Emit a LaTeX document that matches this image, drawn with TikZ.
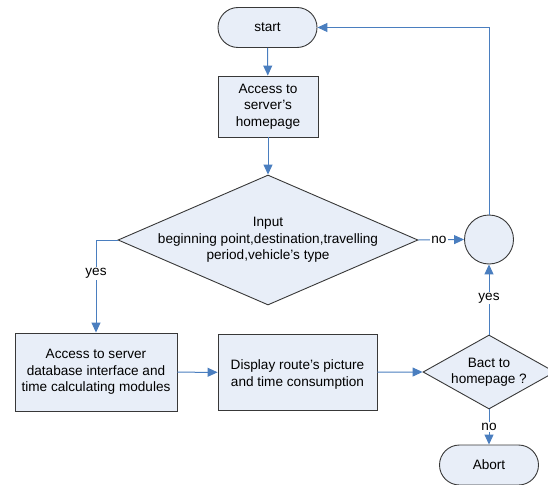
\documentclass[tikz,border=0pt]{standalone}
\usepackage{fontspec}
\setmainfont{Liberation Sans}
\usetikzlibrary{shapes.geometric,arrows.meta}
\definecolor{boxfill}{HTML}{E8EEF8}
\definecolor{boxline}{HTML}{383838}
\definecolor{arrowblue}{HTML}{4A7EBF}
\tikzset{
  base/.style={draw=boxline, fill=boxfill, line width=0.9pt, inner sep=0pt, align=center},
  terminal/.style={base, rectangle, rounded corners=20pt, minimum width=99pt, minimum height=40pt},
  procbox/.style={base, rectangle},
  decision/.style={base, diamond},
  joint/.style={base, circle, minimum size=49pt},
  txt/.style={align=center, inner sep=0pt, font=\fontsize{13.6}{16.5}\selectfont},
  flow/.style={draw=arrowblue, line width=1pt, -{Triangle[width=9pt,length=10pt]}},
  lbl/.style={fill=white, inner sep=1.2pt, font=\fontsize{13.6}{14}\selectfont}
}
\begin{document}
\begin{tikzpicture}[x=1pt,y=-1pt]
\useasboundingbox (0,0) rectangle (548,484);
\node[terminal] (start) at (267.5,27.5) {};
\node[txt] at (start) {start};
\node[procbox, minimum width=100pt, minimum height=61pt] (acc) at (268,106.5) {};
\node[txt] at (acc) {Access to\\server's\\homepage};
\node[decision, minimum width=300pt, minimum height=130pt] (inp) at (268,240) {};
\node[txt] at (inp) {Input\\beginning point,destination,travelling\\period,vehicle's type};
\node[joint] (circ) at (489,239.5) {};
\node[procbox, minimum width=162pt, minimum height=78pt] (db) at (96,372) {};
\node[txt] at (db) {Access to server\\database interface and\\time calculating modules};
\node[procbox, minimum width=159pt, minimum height=76pt] (disp) at (297.5,372.5) {};
\node[txt] at ([yshift=-2pt]disp.center) {Display route's picture\\and time consumption};
\node[decision, minimum width=132pt, minimum height=74pt] (bact) at (489,372) {};
\node[txt] at (bact) {Bact to\\homepage ?};
\node[terminal] (abort) at (489,465) {};
\node[txt] at (abort) {Abort};

\draw[flow] (start) -- (acc);
\draw[flow] (acc) -- (inp.north);
\draw[flow] (inp.east) -- node[lbl, pos=0.45] {no} (circ.west);
\draw[flow] (circ.north) |- (start.east);
\draw[flow] (inp.west) -| node[lbl, pos=0.68] {yes} (db.north);
\draw[flow] (db) -- (disp);
\draw[flow] (disp) -- (bact.west);
\draw[flow] (bact.north) -- node[lbl, pos=0.52] {yes} (circ.south);
\draw[flow] (bact.south) -- node[lbl, pos=0.5] {no} (abort.north);
\end{tikzpicture}
\end{document}
